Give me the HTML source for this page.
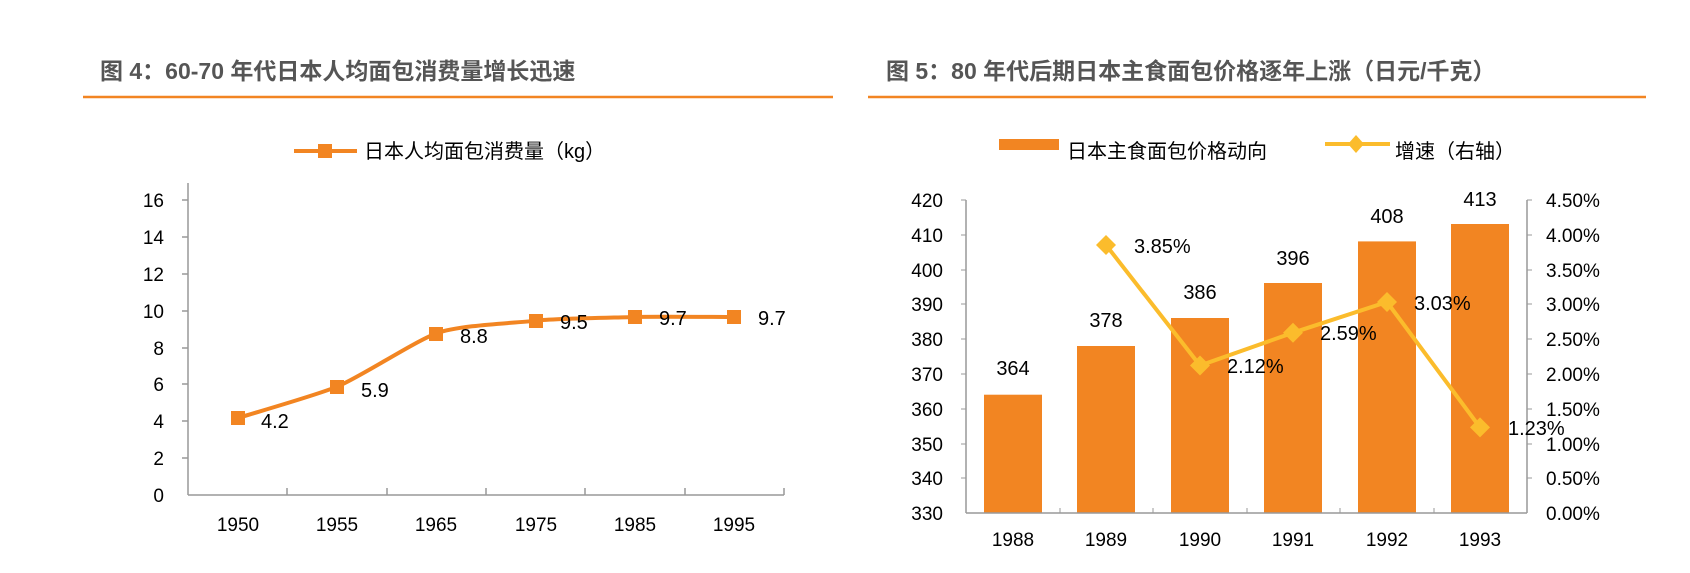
<!DOCTYPE html>
<html><head><meta charset="utf-8"><style>
html,body{margin:0;padding:0;background:#fff;}
svg{display:block;}
text{font-family:"Liberation Sans","Noto Sans CJK SC",sans-serif;}
</style></head><body>
<svg width="1690" height="573" viewBox="0 0 1690 573" xmlns="http://www.w3.org/2000/svg">
<!-- Left chart -->
<text x="100" y="79" font-size="23" font-weight="bold" fill="#555">图 4：60-70 年代日本人均面包消费量增长迅速</text>
<line x1="83" y1="97" x2="833" y2="97" stroke="#F28522" stroke-width="2.5"/>
<line x1="294" y1="151" x2="357" y2="151" stroke="#F28522" stroke-width="4"/>
<rect x="318" y="144" width="14" height="14" fill="#F28522"/>
<text x="364" y="158" font-size="20" fill="#000">日本人均面包消费量（kg）</text>
<g stroke="#999" stroke-width="1.5">
<line x1="188" y1="183" x2="188" y2="495"/>
<line x1="188" y1="495" x2="784" y2="495"/>
<line x1="182" y1="200" x2="188" y2="200"/><line x1="182" y1="237" x2="188" y2="237"/>
<line x1="182" y1="274" x2="188" y2="274"/><line x1="182" y1="311" x2="188" y2="311"/>
<line x1="182" y1="348" x2="188" y2="348"/><line x1="182" y1="384" x2="188" y2="384"/>
<line x1="182" y1="421" x2="188" y2="421"/><line x1="182" y1="458" x2="188" y2="458"/>
<line x1="287" y1="488" x2="287" y2="495"/><line x1="387" y1="488" x2="387" y2="495"/>
<line x1="486" y1="488" x2="486" y2="495"/><line x1="585" y1="488" x2="585" y2="495"/>
<line x1="685" y1="488" x2="685" y2="495"/><line x1="784" y1="488" x2="784" y2="495"/>
</g>
<g font-size="19" fill="#000" text-anchor="end">
<text x="164" y="207">16</text><text x="164" y="244">14</text><text x="164" y="281">12</text>
<text x="164" y="318">10</text><text x="164" y="355">8</text><text x="164" y="391">6</text>
<text x="164" y="428">4</text><text x="164" y="465">2</text><text x="164" y="502">0</text>
</g>
<g font-size="19" fill="#000" text-anchor="middle">
<text x="238" y="531">1950</text><text x="337" y="531">1955</text><text x="436" y="531">1965</text>
<text x="536" y="531">1975</text><text x="635" y="531">1985</text><text x="734" y="531">1995</text>
</g>
<path d="M238,418 C254.5,412.8 315,395.6 337,386.7 C359,377.8 413,342.3 436,333.5 C459,324.7 519,322.9 536,320.7 C553,318.5 618.5,317.6 635,317 C651.5,316.4 717.5,317 734,317" fill="none" stroke="#F28522" stroke-width="4"/>
<g fill="#F28522">
<rect x="231" y="411" width="14" height="14"/><rect x="330" y="380" width="14" height="14"/>
<rect x="429" y="327" width="14" height="14"/><rect x="529" y="314" width="14" height="14"/>
<rect x="628" y="310" width="14" height="14"/><rect x="727" y="310" width="14" height="14"/>
</g>
<g font-size="20" fill="#000">
<text x="261" y="428">4.2</text><text x="361" y="397">5.9</text><text x="460" y="343">8.8</text>
<text x="560" y="329">9.5</text><text x="659" y="325">9.7</text><text x="758" y="325">9.7</text>
</g>

<!-- Right chart -->
<text x="886" y="79" font-size="23" font-weight="bold" fill="#555">图 5：80 年代后期日本主食面包价格逐年上涨（日元/千克）</text>
<line x1="868" y1="97" x2="1646" y2="97" stroke="#F28522" stroke-width="2.5"/>
<rect x="999" y="139" width="60" height="11" fill="#F28522"/>
<text x="1067" y="158" font-size="20" fill="#000">日本主食面包价格动向</text>
<line x1="1325" y1="144" x2="1390" y2="144" stroke="#FBBC2C" stroke-width="4"/>
<path d="M1356,135 L1364,144 L1356,153 L1348,144 Z" fill="#FBBC2C"/>
<text x="1395" y="158" font-size="20" fill="#000">增速（右轴）</text>
<g fill="#F28522">
<rect x="984" y="394.7" width="58" height="118.3"/>
<rect x="1077" y="346" width="58" height="167"/>
<rect x="1171" y="318" width="58" height="195"/>
<rect x="1264" y="283" width="58" height="230"/>
<rect x="1358" y="241.4" width="58" height="271.6"/>
<rect x="1451" y="224" width="58" height="289"/>
</g>
<g stroke="#999" stroke-width="1.5">
<line x1="966" y1="200" x2="966" y2="513"/>
<line x1="1527" y1="200" x2="1527" y2="513"/>
<line x1="966" y1="513" x2="1527" y2="513"/>
</g>
<g stroke="#999" stroke-width="1">
<line x1="961" y1="200" x2="966" y2="200"/><line x1="961" y1="235" x2="966" y2="235"/><line x1="961" y1="270" x2="966" y2="270"/>
<line x1="961" y1="304" x2="966" y2="304"/><line x1="961" y1="339" x2="966" y2="339"/><line x1="961" y1="374" x2="966" y2="374"/>
<line x1="961" y1="409" x2="966" y2="409"/><line x1="961" y1="444" x2="966" y2="444"/><line x1="961" y1="478" x2="966" y2="478"/>
<line x1="1527" y1="200" x2="1532" y2="200"/><line x1="1527" y1="235" x2="1532" y2="235"/><line x1="1527" y1="270" x2="1532" y2="270"/>
<line x1="1527" y1="304" x2="1532" y2="304"/><line x1="1527" y1="339" x2="1532" y2="339"/><line x1="1527" y1="374" x2="1532" y2="374"/>
<line x1="1527" y1="409" x2="1532" y2="409"/><line x1="1527" y1="444" x2="1532" y2="444"/><line x1="1527" y1="478" x2="1532" y2="478"/>
<line x1="1060" y1="508" x2="1060" y2="513"/><line x1="1153" y1="508" x2="1153" y2="513"/><line x1="1247" y1="508" x2="1247" y2="513"/>
<line x1="1340" y1="508" x2="1340" y2="513"/><line x1="1434" y1="508" x2="1434" y2="513"/>
</g>
<g font-size="19" fill="#000" text-anchor="end">
<text x="943" y="207">420</text><text x="943" y="242">410</text><text x="943" y="277">400</text>
<text x="943" y="311">390</text><text x="943" y="346">380</text><text x="943" y="381">370</text>
<text x="943" y="416">360</text><text x="943" y="451">350</text><text x="943" y="485">340</text><text x="943" y="520">330</text>
</g>
<g font-size="19" fill="#000">
<text x="1546" y="207">4.50%</text><text x="1546" y="242">4.00%</text><text x="1546" y="277">3.50%</text>
<text x="1546" y="311">3.00%</text><text x="1546" y="346">2.50%</text><text x="1546" y="381">2.00%</text>
<text x="1546" y="416">1.50%</text><text x="1546" y="451">1.00%</text><text x="1546" y="485">0.50%</text><text x="1546" y="520">0.00%</text>
</g>
<g font-size="19" fill="#000" text-anchor="middle">
<text x="1013" y="546">1988</text><text x="1106" y="546">1989</text><text x="1200" y="546">1990</text>
<text x="1293" y="546">1991</text><text x="1387" y="546">1992</text><text x="1480" y="546">1993</text>
</g>
<g font-size="20" fill="#000" text-anchor="middle">
<text x="1013" y="375">364</text><text x="1106" y="327">378</text><text x="1200" y="299">386</text>
<text x="1293" y="265">396</text><text x="1387" y="223">408</text><text x="1480" y="206">413</text>
</g>
<polyline points="1106,245 1200,365.5 1293,332.7 1387,302 1480,427.4" fill="none" stroke="#FBBC2C" stroke-width="4"/>
<g fill="#FBBC2C">
<path d="M1106,235 L1116,245 L1106,255 L1096,245 Z"/>
<path d="M1200,355.5 L1210,365.5 L1200,375.5 L1190,365.5 Z"/>
<path d="M1293,322.7 L1303,332.7 L1293,342.7 L1283,332.7 Z"/>
<path d="M1387,292 L1397,302 L1387,312 L1377,302 Z"/>
<path d="M1480,417.4 L1490,427.4 L1480,437.4 L1470,427.4 Z"/>
</g>
<g font-size="20" fill="#000">
<text x="1134" y="253">3.85%</text><text x="1227" y="373">2.12%</text><text x="1320" y="340">2.59%</text>
<text x="1414" y="310">3.03%</text><text x="1508" y="435">1.23%</text>
</g>
</svg>
</body></html>
